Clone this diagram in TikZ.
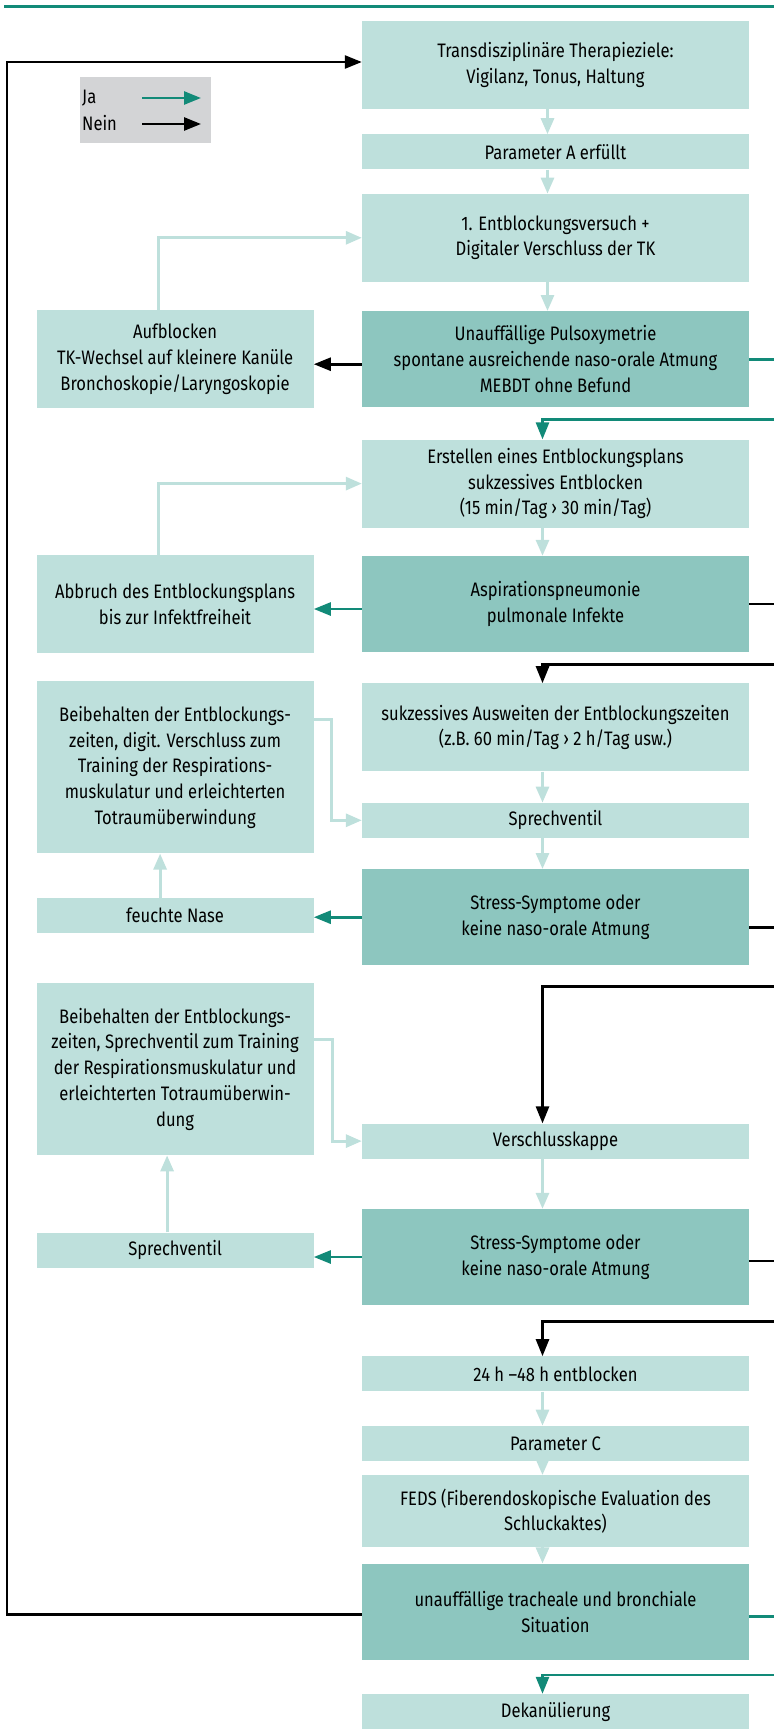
\documentclass[tikz,border=0pt]{standalone}
\usepackage{fontspec}
\setmainfont[FakeStretch=0.85]{Fira Sans}
\usepackage{tikz}
\usetikzlibrary{arrows.meta, positioning}

\definecolor{lightbox}{HTML}{BEE0DC}
\definecolor{darkbox}{HTML}{8DC6BF}
\definecolor{jagreen}{HTML}{128A78}
\definecolor{legendgray}{HTML}{D3D4D6}

\begin{document}
\begin{tikzpicture}[
        node distance=48pt,
        font=\fontsize{19.5}{25.8}\selectfont,
        box/.style={rectangle, fill=lightbox, minimum width=387pt, minimum height=35pt, align=center, inner sep=0pt},
        check/.style={box, fill=darkbox, minimum height=96pt},
        side/.style={rectangle, fill=lightbox, minimum width=277pt, minimum height=35pt, align=center, inner sep=0pt},
        flowarrow/.style={-{Triangle[length=16pt, width=13pt]}, draw=lightbox, line width=3pt},
        jaarrow/.style={-{Triangle[length=17pt, width=13pt]}, draw=jagreen, line width=2.6pt},
        neinarrow/.style={-{Triangle[length=17pt, width=13pt]}, draw=black, line width=2.6pt},
        jaline/.style={draw=jagreen, line width=2.6pt},
        neinline/.style={draw=black, line width=2.6pt}
    ]
        \useasboundingbox (0,0) rectangle (774pt,-1733pt);

        % 1. Frame and legend
        \coordinate (topL) at (4pt,-6pt);
        \coordinate (topR) at (774pt,-6pt);
        \coordinate (lft) at (7pt,0);
        \coordinate (rgt) at (774pt,0);
        \draw [jagreen, line width=3pt] (topL) -- (topR);

        \node (legend) [rectangle, fill=legendgray, minimum width=131pt, minimum height=66pt] at (145.5pt,-110pt) {};
        \node (ja) [anchor=west, inner sep=0pt] at (82pt,-98pt) {Ja};
        \node (nein) [anchor=west, inner sep=0pt] at (82pt,-123pt) {Nein};
        \coordinate (jaS) at (142pt,-98pt);
        \coordinate (jaE) at (201pt,-98pt);
        \coordinate (neinS) at (142pt,-124pt);
        \coordinate (neinE) at (201pt,-124pt);
        \draw [jaarrow] (jaS) -- (jaE);
        \draw [neinarrow] (neinS) -- (neinE);

        % 2. Main column
        \node (b1) [box, minimum height=88pt] at (555.5pt,-65pt) {Transdisziplinäre Therapieziele:\\ Vigilanz, Tonus, Haltung};
        \node (b2) [box, below=25pt of b1] {Parameter A erfüllt};
        \node (b3) [box, minimum height=88pt, below=24pt of b2] {1. Entblockungsversuch +\\ Digitaler Verschluss der TK};
        \node (d1) [check, below=29pt of b3] {Unauffällige Pulsoxymetrie\\ spontane ausreichende naso-orale Atmung\\ MEBDT ohne Befund};
        \node (b4) [box, minimum height=88pt, below=32pt of d1] {Erstellen eines Entblockungsplans\\ sukzessives Entblocken\\ (15 min/Tag › 30 min/Tag)};
        \node (d2) [check, below=28pt of b4] {Aspirationspneumonie\\ pulmonale Infekte};
        \node (b5) [box, minimum height=88pt, below=31pt of d2] {sukzessives Ausweiten der Entblockungszeiten\\ (z.B. 60 min/Tag › 2 h/Tag usw.)};
        \node (b6) [box, below=31pt of b5] {Sprechventil};
        \node (d3) [check, below=31pt of b6] {Stress-Symptome oder\\ keine naso-orale Atmung};
        \node (b7) [box, below=158pt of d3] {Verschlusskappe};
        \node (d4) [check, below=50pt of b7] {Stress-Symptome oder\\ keine naso-orale Atmung};
        \node (b8) [box, below=51pt of d4] {24 h –48 h entblocken};
        \node (b9) [box, below=34pt of b8] {Parameter C};
        \node (b10) [box, minimum height=72pt, below=14pt of b9] {FEDS (Fiberendoskopische Evaluation des\\ Schluckaktes)};
        \node (d5) [check, below=16pt of b10] {unauffällige tracheale und bronchiale\\ Situation};
        \node (b11) [box, below=34pt of d5] {Dekanülierung};

        % 3. Side column
        \node (l1) [side, minimum height=98pt, left=48pt of d1] {Aufblocken\\ TK-Wechsel auf kleinere Kanüle\\ Bronchoskopie/Laryngoskopie};
        \node (l2) [side, minimum height=98pt, left=48pt of d2] {Abbruch des Entblockungsplans\\ bis zur Infektfreiheit};
        \node (l3) [side, minimum height=172pt, below=28pt of l2] {Beibehalten der Entblockungs-\\ zeiten, digit. Verschluss zum\\ Training der Respirations-\\ muskulatur und erleichterten\\ Totraumüberwindung};
        \node (l4) [side, below=44pt of l3] {feuchte Nase};
        \node (l5) [side, minimum height=172pt, below=50pt of l4] {Beibehalten der Entblockungs-\\ zeiten, Sprechventil zum Training\\ der Respirationsmuskulatur und\\ erleichterten Totraumüberwin-\\ dung};
        \node (l6) [side, below=77pt of l5] {Sprechventil};

        % Main flow
        \draw [flowarrow] ([xshift=-8pt]b1.south) -- ([xshift=-8pt]b2.north);
        \draw [flowarrow] ([xshift=-8pt]b2.south) -- ([xshift=-8pt]b3.north);
        \draw [flowarrow] ([xshift=-8pt]b3.south) -- ([xshift=-8pt]d1.north);
        \draw [flowarrow] ([xshift=-13pt]b4.south) -- ([xshift=-13pt]d2.north);
        \draw [flowarrow] ([xshift=-13pt]b5.south) -- ([xshift=-13pt]b6.north);
        \draw [flowarrow] ([xshift=-13pt]b6.south) -- ([xshift=-13pt]d3.north);
        \draw [flowarrow] ([xshift=-13pt]b7.south) -- ([xshift=-13pt]d4.north);
        \draw [flowarrow] ([xshift=-13pt]b8.south) -- ([xshift=-13pt]b9.north);
        \draw [flowarrow] ([xshift=-13pt]b9.south) -- ([xshift=-13pt]b10.north);
        \draw [flowarrow] ([xshift=-13pt]b10.south) -- ([xshift=-13pt]d5.north);

        % Side loops
        \draw [flowarrow] ([xshift=-17pt]l1.north) |- (b3.west);
        \draw [flowarrow] ([xshift=-17pt]l2.north) |- (b4.west);
        \draw [flowarrow] ([yshift=-38pt]l3.north east) -- ++(18pt,0) |- (b6.west);
        \draw [flowarrow] ([yshift=-56pt]l5.north east) -- ++(19pt,0) |- (b7.west);
        \draw [flowarrow] ([xshift=-15pt]l4.north) -- ([xshift=-15pt]l3.south);
        \draw [flowarrow] ([xshift=-8pt]l6.north) -- ([xshift=-8pt]l5.south);

        % Ja / Nein to the left
        \draw [neinarrow] ([yshift=-5pt]d1.west) -- ([yshift=-5pt]l1.east);
        \draw [jaarrow] ([yshift=-5pt]d2.west) -- ([yshift=-5pt]l2.east);
        \draw [jaarrow] (d3.west) -- (d3.west -| l4.east);
        \draw [jaarrow] (d4.west) -- (d4.west -| l6.east);

        % Ja / Nein to the right edge and back
        \draw [jaline] (d1.east) -- (d1.east -| rgt);
        \draw [jaarrow] ([yshift=20pt]b4.north -| rgt) -| ([xshift=-13pt]b4.north);
        \draw [neinline] (d2.east) -- (d2.east -| rgt);
        \draw [neinarrow] ([yshift=19pt]b5.north -| rgt) -| ([xshift=-13pt]b5.north);
        \draw [neinline] ([yshift=-10pt]d3.east) -- ([yshift=-10pt]d3.east -| rgt);
        \draw [neinarrow] ([yshift=137pt]b7.north -| rgt) -| ([xshift=-13pt]b7.north);
        \draw [neinline] ([yshift=-4pt]d4.east) -- ([yshift=-4pt]d4.east -| rgt);
        \draw [neinarrow] ([yshift=35pt]b8.north -| rgt) -| ([xshift=-13pt]b8.north);
        \draw [jaline] ([yshift=-5pt]d5.east) -- ([yshift=-5pt]d5.east -| rgt);
        \draw [jaarrow] ([yshift=19pt]b11.north -| rgt) -| ([xshift=-13pt]b11.north);

        % Back to the start
        \draw [neinarrow] ([yshift=-3pt]d5.west) -- ([yshift=-3pt]d5.west -| lft) -- ([yshift=3pt]b1.west -| lft) -- ([yshift=3pt]b1.west);

    \end{tikzpicture}
\end{document}
